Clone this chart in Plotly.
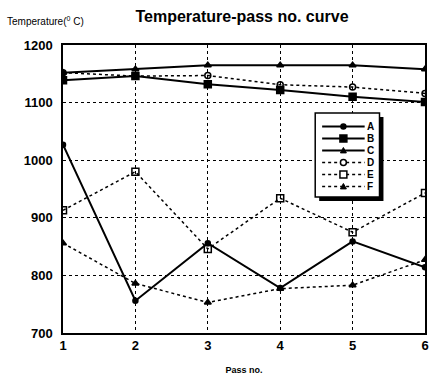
import plotly.graph_objects as go

passes = [1, 2, 3, 4, 5, 6]
series_names = ["A", "B", "C", "D", "E", "F"]
a_vals = [1027, 756, 856, 778, 859, 814]
b_vals = [1139, 1146, 1132, 1122, 1110, 1101]
c_vals = [1152, 1158, 1165, 1165, 1165, 1158]
d_vals = [1152, 1146, 1147, 1131, 1127, 1116]
e_vals = [913, 980, 846, 934, 875, 943]
f_vals = [856, 786, 753, 777, 783, 827]
y_ticks = [700, 800, 900, 1000, 1100, 1200]

styles = [
    (a_vals, "solid", "circle", 5),
    (b_vals, "solid", "square", 7),
    (c_vals, "solid", "triangle-up", 6),
    (d_vals, "dot", "circle-open", 6),
    (e_vals, "dot", "square-open", 7),
    (f_vals, "dot", "triangle-up", 6),
]

W, H = 437, 382
ML, MR, MT, MB = 63, 8, 45, 49
PW, PH = W - ML - MR, H - MT - MB


def px(x):
    return (x - ML) / PW


def py(y):
    return (H - MB - y) / PH


fig = go.Figure()
for name, (vals, dash, sym, size) in zip(series_names, styles):
    fig.add_trace(go.Scatter(
        x=passes, y=vals, name=name, mode="lines+markers",
        line=dict(color="black", width=2 if dash == "solid" else 1.5, dash=dash),
        marker=dict(symbol=sym, size=size, color="black",
                    line=dict(color="black", width=1.5)),
    ))

font_fam = "Liberation Sans, Arial, sans-serif"
fig.update_layout(
    width=W, height=H,
    margin=dict(l=ML, r=MR, t=MT, b=MB),
    paper_bgcolor="white", plot_bgcolor="white",
    title=dict(text="<b>Temperature-pass no. curve</b>", x=242 / W, xanchor="center",
               y=1 - 16 / H, yanchor="middle",
               font=dict(family=font_fam, size=16, color="black")),
    font=dict(family=font_fam, color="black"),
    showlegend=False,
    xaxis=dict(range=[1, 6], tickvals=passes, showgrid=True, gridcolor="black",
               griddash="dot", gridwidth=1, showline=True, linecolor="black",
               linewidth=1.5, mirror=True, zeroline=False, ticks="",
               tickfont=dict(family=font_fam, size=13, color="black", weight="bold"),
               title=dict(text="Pass no.", standoff=14,
                          font=dict(family=font_fam, size=9, color="black", weight="bold"))),
    yaxis=dict(range=[700, 1200], tickvals=y_ticks, showgrid=True, gridcolor="black",
               griddash="dot", gridwidth=1, showline=True, linecolor="black",
               linewidth=1.5, mirror=True, zeroline=False, ticks="",
               ticklabelstandoff=6,
               tickfont=dict(family=font_fam, size=13, color="black", weight="bold")),
)

fig.add_annotation(text="Temperature(<sup>0</sup> C)", xref="paper", yref="paper",
                   x=px(4), y=py(21), xanchor="left", yanchor="middle",
                   showarrow=False,
                   font=dict(family=font_fam, size=10, color="black"))

# custom legend box with drop shadow
bx0, bx1, by0, by1 = 318, 383, 113, 197
fig.add_shape(type="rect", xref="paper", yref="paper",
              x0=px(bx0 + 4), x1=px(bx1 + 4), y0=py(by1 + 4), y1=py(by0 + 4),
              fillcolor="black", line=dict(width=0), layer="above")
fig.add_shape(type="rect", xref="paper", yref="paper",
              x0=px(bx0), x1=px(bx1), y0=py(by1), y1=py(by0),
              fillcolor="white", line=dict(color="black", width=1.5), layer="above")

row_y0, row_step = 126.5, 12
lx0, lx1, mx, tx = 325, 368, 346.5, 369
for i, (name, (vals, dash, sym, size)) in enumerate(zip(series_names, styles)):
    yy = row_y0 + i * row_step
    fig.add_shape(type="line", xref="paper", yref="paper",
                  x0=px(lx0), x1=px(lx1), y0=py(yy), y1=py(yy),
                  line=dict(color="black", width=2 if dash == "solid" else 1.5, dash=dash),
                  layer="above")
    r = size / 2
    fill = "white" if sym.endswith("open") else "black"
    if sym.startswith("circle"):
        fig.add_shape(type="circle", xref="paper", yref="paper",
                      x0=px(mx - r), x1=px(mx + r), y0=py(yy + r), y1=py(yy - r),
                      fillcolor=fill, line=dict(color="black", width=1.5), layer="above")
    elif sym.startswith("square"):
        fig.add_shape(type="rect", xref="paper", yref="paper",
                      x0=px(mx - r), x1=px(mx + r), y0=py(yy + r), y1=py(yy - r),
                      fillcolor=fill, line=dict(color="black", width=1.5), layer="above")
    else:
        path = "M {:.5f},{:.5f} L {:.5f},{:.5f} L {:.5f},{:.5f} Z".format(
            px(mx - r), py(yy + r * 0.8), px(mx + r), py(yy + r * 0.8), px(mx), py(yy - r))
        fig.add_shape(type="path", xref="paper", yref="paper", path=path,
                      fillcolor="black", line=dict(color="black", width=1), layer="above")
    fig.add_annotation(text="<b>%s</b>" % name, xref="paper", yref="paper",
                       x=px(tx), y=py(yy), xanchor="left", yanchor="middle",
                       showarrow=False, borderpad=0,
                       font=dict(family=font_fam, size=10, color="black"))

fig.write_html("out.html", config={"displayModeBar": False},
               post_script="document.body.style.margin='0';")
